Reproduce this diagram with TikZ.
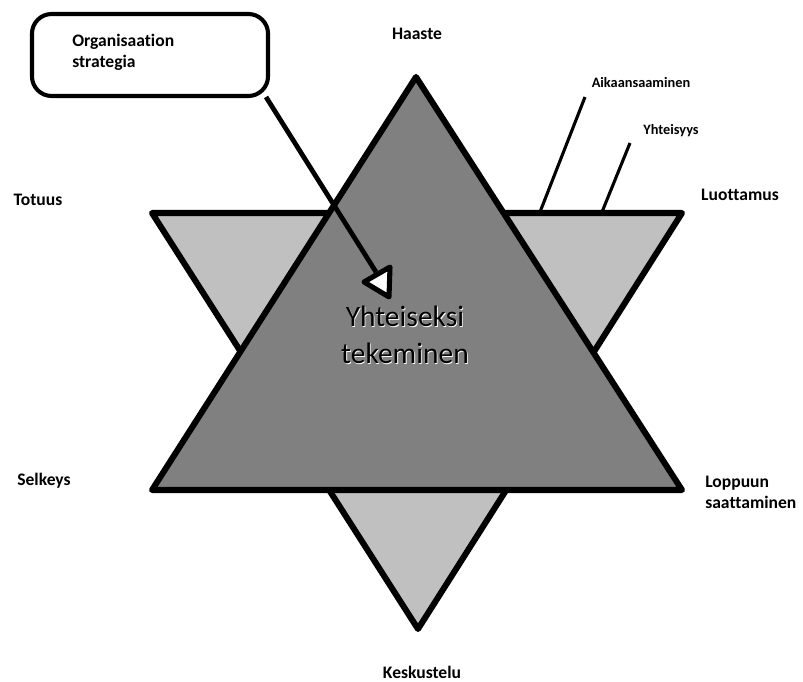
\documentclass[tikz,border=0pt]{standalone}
\usepackage{fontspec}
\setmainfont[Ligatures={NoCommon}]{Carlito}
\tikzstyle{lbl}=[font=\bfseries\fontsize{12.5}{15}\selectfont,inner sep=0pt,align=left]
\tikzstyle{small}=[font=\bfseries\fontsize{10.2}{12}\selectfont,inner sep=0pt]
\tikzstyle{tri}=[draw=black,line width=4.3pt,line join=round]
\tikzstyle{stick}=[draw=black,line width=2.2pt]
\tikzstyle{box}=[draw,line width=2.9pt,rounded corners=14pt,minimum width=5.9cm,minimum height=2.05cm]
\tikzstyle{big}=[font=\fontsize{21}{26.3}\selectfont,inner sep=0pt,align=center]
\definecolor{darktri}{RGB}{128,128,128}
\definecolor{lighttri}{RGB}{192,192,192}

\begin{document}
\begin{tikzpicture}[x=0.025cm,y=-0.025cm]
        \useasboundingbox (0,0) rectangle (803,682);
        % the two triangles
        \filldraw[tri,fill=lighttri] (152,213) -- (682,213) -- (418,629) -- cycle;
        \filldraw[tri,fill=darktri] (416,77) -- (682,490) -- (152,490) -- cycle;
        % labels round the star
        \node[lbl] (haaste) at (417,34) {Haaste};
        \node[lbl] (totuus) at (38,200) {Totuus};
        \node[lbl] (luottamus) at (740,195) {Luottamus};
        \node[lbl] (selkeys) at (44,481) {Selkeys};
        \node[lbl,anchor=west] (loppuun) at (705,492) {Loppuun\\saattaminen};
        \node[lbl] (keskustelu) at (422,672) {Keskustelu};
        % small labels with their sticks
        \node[small] (aikaan) at (641,83) {Aikaansaaminen};
        \node[small] (yhteisyys) at (671,131) {Yhteisyys};
        \coordinate (a1) at (540,212);
        \coordinate (a2) at (585,97);
        \coordinate (y1) at (602,212);
        \coordinate (y2) at (630,143);
        \draw[stick] (a1) -- (a2);
        \draw[stick] (y1) -- (y2);
        % strategy box and its arrow
        \node[box] (strat) at (150,55) {};
        \node[lbl,anchor=west] (strattxt) at (72,52) {Organisaation\\strategia};
        \coordinate (from) at (266,97);
        \coordinate (to) at (376,272);
        \draw[line width=3.4pt] (from) -- (to);
        \filldraw[fill=white,draw=black,line width=3.6pt,line join=round] (364,282) -- (390,267) -- (389,297) -- cycle;
        % centre text
        \node[big,white] (centreshadow) at (405.8,335.8) {Yhteiseksi\\tekeminen};
        \node[big] (centre) at (405,335) {Yhteiseksi\\tekeminen};
    \end{tikzpicture}
\end{document}
